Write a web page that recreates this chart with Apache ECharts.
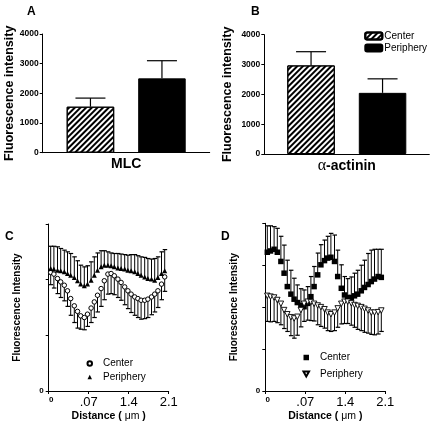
<!DOCTYPE html>
<html>
<head>
<meta charset="utf-8">
<script src="https://cdn.jsdelivr.net/npm/echarts@6/dist/echarts.min.js"></script>
<style>html,body{margin:0;padding:0;background:#fff}#main{width:432px;height:428px}</style>
</head>
<body>
<div id="main"></div>
<script>
// ---------- data ----------
const groupNames = ['Center', 'Periphery'];
const barYTicks = [0, 1000, 2000, 3000, 4000];
const mlcCategory = ['MLC'];
const mlcMeans = [1550, 2505];
const mlcErrs = [290, 595];
const actCategory = ['α-actinin'];
const actMeans = [2970, 2050];
const actErrs = [460, 470];

const distanceTickLabels = ['0', '.07', '1.4', '2.1'];
const distance = [0.05, 0.13, 0.22, 0.30, 0.39, 0.47, 0.55, 0.64, 0.72, 0.80, 0.89, 0.97, 1.06, 1.14, 1.22, 1.31, 1.39, 1.48, 1.56, 1.64, 1.73, 1.81, 1.90, 1.98, 2.06, 2.15, 2.23, 2.31, 2.40, 2.48, 2.57, 2.65, 2.73, 2.82, 2.90];

// Panel C (MLC profile)
const cCenter = [2.13, 2.10, 2.02, 1.96, 1.90, 1.80, 1.66, 1.53, 1.43, 1.35, 1.32, 1.38, 1.49, 1.60, 1.72, 1.84, 1.98, 2.10, 2.11, 2.07, 2.01, 1.95, 1.87, 1.80, 1.74, 1.69, 1.66, 1.63, 1.63, 1.65, 1.69, 1.74, 1.80, 1.92, 2.05];
const cCenterErr = [0.22, 0.25, 0.27, 0.28, 0.28, 0.28, 0.30, 0.30, 0.30, 0.24, 0.22, 0.22, 0.26, 0.28, 0.30, 0.32, 0.34, 0.36, 0.36, 0.34, 0.33, 0.32, 0.32, 0.32, 0.33, 0.33, 0.34, 0.34, 0.33, 0.33, 0.32, 0.32, 0.30, 0.28, 0.26];
const cPeriphery = [2.20, 2.19, 2.17, 2.16, 2.14, 2.11, 2.08, 2.04, 1.98, 1.92, 1.89, 1.92, 1.99, 2.08, 2.17, 2.23, 2.26, 2.26, 2.25, 2.23, 2.21, 2.20, 2.19, 2.17, 2.16, 2.14, 2.11, 2.08, 2.05, 2.02, 2.01, 1.99, 2.04, 2.11, 2.16];
const cPeripheryErr = [0.40, 0.41, 0.42, 0.40, 0.39, 0.39, 0.39, 0.37, 0.36, 0.34, 0.34, 0.33, 0.33, 0.33, 0.31, 0.29, 0.26, 0.24, 0.23, 0.24, 0.26, 0.26, 0.26, 0.27, 0.29, 0.31, 0.32, 0.33, 0.35, 0.36, 0.36, 0.39, 0.37, 0.39, 0.38];

// Panel D (alpha-actinin profile)
const dCenter = [3.31, 3.34, 3.38, 3.31, 3.09, 2.81, 2.49, 2.31, 2.19, 2.11, 2.04, 2.01, 2.09, 2.25, 2.49, 2.77, 3.01, 3.11, 3.17, 3.19, 3.09, 2.73, 2.45, 2.29, 2.23, 2.23, 2.27, 2.31, 2.39, 2.47, 2.54, 2.61, 2.67, 2.73, 2.71];
const dCenterErr = [0.63, 0.60, 0.54, 0.57, 0.60, 0.67, 0.63, 0.57, 0.50, 0.42, 0.40, 0.40, 0.40, 0.48, 0.48, 0.52, 0.48, 0.49, 0.52, 0.57, 0.63, 0.63, 0.56, 0.44, 0.45, 0.49, 0.54, 0.57, 0.61, 0.65, 0.74, 0.75, 0.71, 0.65, 0.67];
const dPeriphery = [2.27, 2.25, 2.23, 2.17, 2.08, 1.93, 1.83, 1.76, 1.73, 1.77, 1.93, 2.08, 2.13, 2.12, 2.08, 2.04, 2.00, 1.95, 1.87, 1.83, 1.87, 1.97, 2.08, 2.13, 2.13, 2.09, 2.05, 2.03, 2.00, 1.96, 1.92, 1.87, 1.87, 1.88, 1.92];
const dPeripheryErr = [0.61, 0.60, 0.57, 0.54, 0.50, 0.44, 0.41, 0.44, 0.47, 0.44, 0.40, 0.42, 0.44, 0.44, 0.41, 0.46, 0.46, 0.45, 0.43, 0.41, 0.43, 0.45, 0.48, 0.52, 0.52, 0.52, 0.53, 0.56, 0.56, 0.56, 0.54, 0.52, 0.53, 0.52, 0.50];

// ---------- styling helpers ----------
const FONT = 'Liberation Sans, Arial, sans-serif';
const BAR_W = 47.5, BAR_GAP = 24;
const DOWN_TRI = 'path://M0,0L10,0L5,8.66Z';
const hatch = {
  symbol: 'rect', symbolSize: 1, color: '#000',
  dashArrayX: [1, 0], dashArrayY: [1.6, 1.5], rotation: -Math.PI / 4
};

function barYAxis(idx) {
  return {
    type: 'value', gridIndex: idx, min: 0, max: 4000, interval: 1000,
    name: 'Fluorescence intensity', nameLocation: 'middle', nameGap: idx === 0 ? 27 : 30,
    nameTextStyle: { fontFamily: FONT, fontWeight: 'bold', fontSize: 12.5, color: '#000' },
    axisLine: { show: true, lineStyle: { color: '#000', width: 1 } },
    axisTick: { show: true, length: 3, lineStyle: { color: '#000' } },
    axisLabel: { fontFamily: FONT, fontWeight: 'bold', fontSize: 8.5, color: '#000', margin: 4,
      formatter: v => barYTicks.indexOf(v) >= 0 ? String(v) : '' },
    splitLine: { show: false }
  };
}
function barXAxis(idx, cats, rich) {
  return {
    type: 'category', gridIndex: idx, data: cats,
    axisLine: { show: true, lineStyle: { color: '#000', width: 1 } },
    axisTick: { show: false },
    axisLabel: rich ? { margin: 4, formatter: () => '{a|α}{b|-actinin}', rich: {
        a: { fontFamily: 'Liberation Serif, serif', fontSize: 16, color: '#000' },
        b: { fontFamily: FONT, fontWeight: 'bold', fontSize: 14, color: '#000' } } }
      : { margin: 4, fontFamily: FONT, fontWeight: 'bold', fontSize: 14, color: '#000' }
  };
}
function profXAxis(idx) {
  return {
    type: 'value', gridIndex: idx, min: 0, max: 3, interval: 1,
    name: '{b|Distance ( }{m|μm}{b| )}', nameLocation: 'middle', nameGap: 20,
    nameTextStyle: { rich: {
      b: { fontFamily: FONT, fontWeight: 'bold', fontSize: 10.5, color: '#000' },
      m: { fontFamily: FONT, fontSize: 10.5, color: '#000' } } },
    axisLine: { show: true, onZero: false, lineStyle: { color: '#000', width: 1 } },
    axisTick: { show: true, length: 3, lineStyle: { color: '#000' } },
    axisLabel: { margin: 5, formatter: v => v === 0 ? '{s|0}' : '{n|' + distanceTickLabels[v] + '}',
      rich: { s: { fontFamily: FONT, fontWeight: 'bold', fontSize: 8, color: '#000', padding: [0, 0, 0, 5] },
              n: { fontFamily: FONT, fontSize: 13, color: '#000' } } },
    splitLine: { show: false }
  };
}
function profYAxis(idx, max) {
  return {
    type: 'value', gridIndex: idx, min: 0, max: max, interval: 1,
    name: 'Fluorescence Intensity', nameLocation: 'middle', nameGap: 26,
    nameTextStyle: { fontFamily: FONT, fontWeight: 'bold', fontSize: 10, color: '#000' },
    axisLine: { show: true, lineStyle: { color: '#000', width: 1 } },
    axisTick: { show: true, length: 3, lineStyle: { color: '#000' } },
    axisLabel: { fontFamily: FONT, fontWeight: 'bold', fontSize: 8, color: '#000', margin: 5,
      formatter: v => v === 0 ? '0' : '' },
    splitLine: { show: false }
  };
}
function barErrSeries(axis, means, errs) {
  return {
    type: 'custom', xAxisIndex: axis, yAxisIndex: axis, z: 5, silent: true,
    data: means.map((m, i) => [0, m, errs[i], i]),
    renderItem(params, api) {
      const i = api.value(3);
      const base = api.coord([api.value(0), api.value(1)]);
      const top = api.coord([api.value(0), api.value(1) + api.value(2)]);
      const x = base[0] + (i - (means.length - 1) / 2) * (BAR_W + BAR_GAP);
      return { type: 'group', children: [
        { type: 'line', shape: { x1: x, y1: base[1], x2: x, y2: top[1] }, style: { stroke: '#000', lineWidth: 1.2 } },
        { type: 'line', shape: { x1: x - 15, y1: top[1], x2: x + 15, y2: top[1] }, style: { stroke: '#000', lineWidth: 1.2 } }
      ] };
    }
  };
}
function dotErrSeries(axis, ys, errs, dir) {
  return {
    type: 'custom', xAxisIndex: axis, yAxisIndex: axis, z: 3, silent: true,
    data: distance.map((x, i) => [x, ys[i], errs[i]]),
    renderItem(params, api) {
      const p = api.coord([api.value(0), api.value(1)]);
      const e = api.coord([api.value(0), api.value(1) + dir * api.value(2)]);
      return { type: 'group', children: [
        { type: 'line', shape: { x1: p[0], y1: p[1], x2: p[0], y2: e[1] }, style: { stroke: '#000', lineWidth: 1 } },
        { type: 'line', shape: { x1: p[0] - 2, y1: e[1], x2: p[0] + 2.5, y2: e[1] }, style: { stroke: '#000', lineWidth: 1.2 } }
      ] };
    }
  };
}
function pts(ys) { return distance.map((x, i) => [x, ys[i]]); }
const stripName = n => n.split('|')[1];

const chart = echarts.init(document.getElementById('main'), null, { renderer: 'canvas' });
chart.setOption({
  backgroundColor: '#fff',
  animation: false,
  grid: [
    { left: 42.7, top: 34, width: 167, height: 118.7 },
    { left: 264.3, top: 34.7, width: 165, height: 119.3 },
    { left: 48.7, top: 224, width: 120, height: 167 },
    { left: 265.3, top: 223.3, width: 120, height: 167.7 }
  ],
  xAxis: [barXAxis(0, mlcCategory, false), barXAxis(1, actCategory, true), profXAxis(2), profXAxis(3)],
  yAxis: [barYAxis(0), barYAxis(1), profYAxis(2, 3), profYAxis(3, 4)],
  legend: [
    { data: ['B|' + groupNames[0], 'B|' + groupNames[1]], orient: 'vertical', left: 364.3, top: 31, padding: 0,
      itemWidth: 17, itemHeight: 7, itemGap: 2, formatter: stripName, selectedMode: false,
      textStyle: { fontFamily: FONT, fontSize: 10, color: '#000', padding: [0, 0, 0, -3] } },
    { data: [{ name: 'C|' + groupNames[0], icon: 'circle' }, { name: 'C|' + groupNames[1], icon: 'triangle' }],
      orient: 'vertical', left: 86.5, top: 358.5, padding: 0,
      itemWidth: 4.5, itemHeight: 4.5, itemGap: 3.5, formatter: stripName, selectedMode: false,
      textStyle: { fontFamily: FONT, fontSize: 10, color: '#000', padding: [0, 0, 0, 6] } },
    { data: [{ name: 'D|' + groupNames[0], icon: 'rect' }, { name: 'D|' + groupNames[1], icon: DOWN_TRI }],
      orient: 'vertical', left: 302.5, top: 352.5, padding: 0,
      itemWidth: 5.5, itemHeight: 5.5, itemGap: 6.5, formatter: stripName, selectedMode: false,
      textStyle: { fontFamily: FONT, fontSize: 10, color: '#000', padding: [0, 0, 0, 6] } }
  ],
  graphic: [
    { type: 'text', left: 27, top: 5.5, style: { text: 'A', font: 'bold 12px ' + FONT, fill: '#000' } },
    { type: 'text', left: 251, top: 5.5, style: { text: 'B', font: 'bold 12px ' + FONT, fill: '#000' } },
    { type: 'text', left: 5, top: 230.5, style: { text: 'C', font: 'bold 12px ' + FONT, fill: '#000' } },
    { type: 'text', left: 221, top: 230.5, style: { text: 'D', font: 'bold 12px ' + FONT, fill: '#000' } }
  ],
  series: [
    { type: 'bar', name: 'A|' + groupNames[0], xAxisIndex: 0, yAxisIndex: 0, data: [mlcMeans[0]],
      barWidth: BAR_W, barGap: (BAR_GAP / BAR_W * 100) + '%',
      itemStyle: { color: '#fff', borderColor: '#000', borderWidth: 1, decal: hatch } },
    { type: 'bar', name: 'A|' + groupNames[1], xAxisIndex: 0, yAxisIndex: 0, data: [mlcMeans[1]],
      barWidth: BAR_W, barGap: (BAR_GAP / BAR_W * 100) + '%',
      itemStyle: { color: '#000', borderColor: '#000', borderWidth: 1 } },
    barErrSeries(0, mlcMeans, mlcErrs),
    { type: 'bar', name: 'B|' + groupNames[0], xAxisIndex: 1, yAxisIndex: 1, data: [actMeans[0]],
      barWidth: BAR_W, barGap: (BAR_GAP / BAR_W * 100) + '%',
      itemStyle: { color: '#fff', borderColor: '#000', borderWidth: 1, decal: hatch } },
    { type: 'bar', name: 'B|' + groupNames[1], xAxisIndex: 1, yAxisIndex: 1, data: [actMeans[1]],
      barWidth: BAR_W, barGap: (BAR_GAP / BAR_W * 100) + '%',
      itemStyle: { color: '#000', borderColor: '#000', borderWidth: 1 } },
    barErrSeries(1, actMeans, actErrs),

    dotErrSeries(2, cCenter, cCenterErr, -1),
    dotErrSeries(2, cPeriphery, cPeripheryErr, 1),
    { type: 'scatter', name: 'C|' + groupNames[0], xAxisIndex: 2, yAxisIndex: 2, z: 6, data: pts(cCenter),
      symbol: 'circle', symbolSize: 4.5, itemStyle: { color: '#fff', borderColor: '#000', borderWidth: 1, opacity: 1 } },
    { type: 'scatter', name: 'C|' + groupNames[1], xAxisIndex: 2, yAxisIndex: 2, z: 6, data: pts(cPeriphery),
      symbol: 'triangle', symbolSize: 5, itemStyle: { color: '#000', opacity: 1 } },

    dotErrSeries(3, dCenter, dCenterErr, 1),
    dotErrSeries(3, dPeriphery, dPeripheryErr, -1),
    { type: 'scatter', name: 'D|' + groupNames[0], xAxisIndex: 3, yAxisIndex: 3, z: 6, data: pts(dCenter),
      symbol: 'rect', symbolSize: 5.5, itemStyle: { color: '#000', opacity: 1 } },
    { type: 'scatter', name: 'D|' + groupNames[1], xAxisIndex: 3, yAxisIndex: 3, z: 6, data: pts(dPeriphery),
      symbol: DOWN_TRI, symbolSize: 5.5,
      itemStyle: { color: '#fff', borderColor: '#000', borderWidth: 0.9, opacity: 1 } }
  ]
});
</script>
</body>
</html>
